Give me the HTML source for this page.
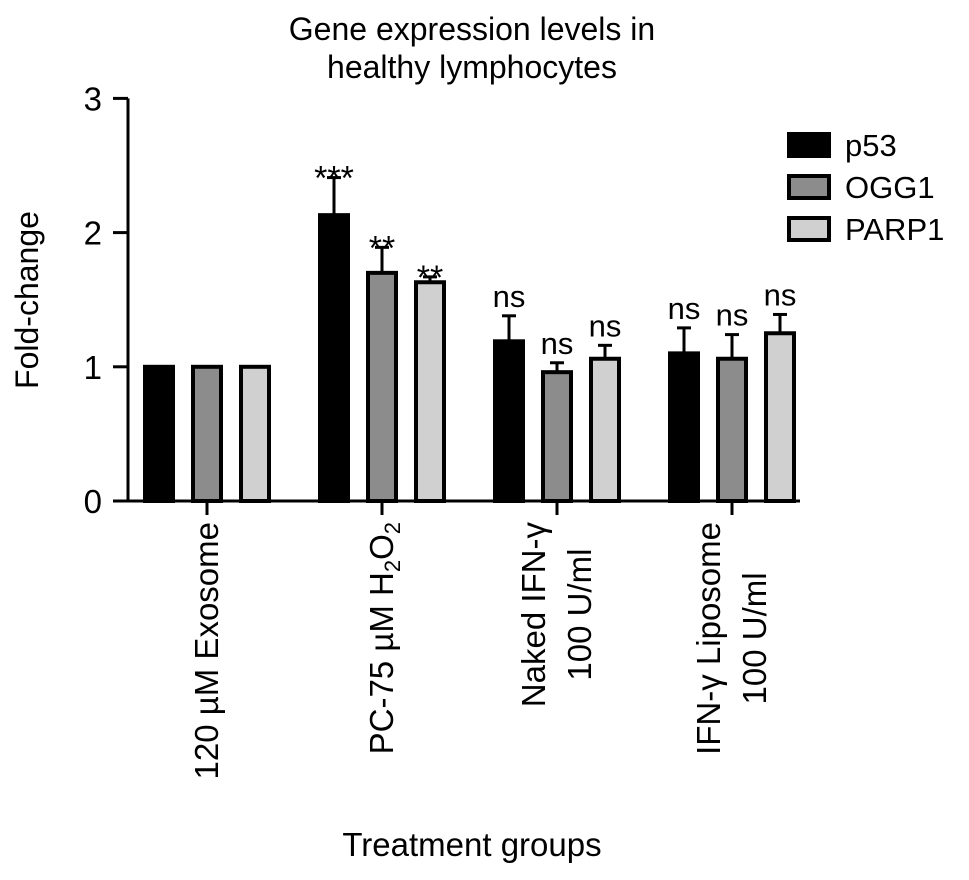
<!DOCTYPE html>
<html><head><meta charset="utf-8"><style>
body{margin:0;background:#fff}
svg text{font-family:"Liberation Sans",Arial,sans-serif;fill:#000}
</style></head><body>
<svg id="c" width="969" height="875" viewBox="0 0 969 875">
<text x="472" y="40" font-size="32" text-anchor="middle">Gene expression levels in</text>
<text x="472" y="78" font-size="32" text-anchor="middle">healthy lymphocytes</text>
<text transform="translate(38,300) rotate(-90)" font-size="32" text-anchor="middle">Fold-change</text>
<text x="472" y="856" font-size="33" text-anchor="middle">Treatment groups</text>
<g id="marks"></g>
</svg>
<script>
const categories=["120 µM Exosome","PC-75 µM H2O2","Naked IFN-γ|100 U/ml","IFN-γ Liposome|100 U/ml"];
const seriesNames=["p53","OGG1","PARP1"];
const p53=[1.0,2.13,1.19,1.10];
const ogg1=[1.0,1.70,0.96,1.06];
const parp1=[1.0,1.63,1.06,1.25];
const p53Err=[0,0.28,0.19,0.19];
const ogg1Err=[0,0.19,0.07,0.18];
const parp1Err=[0,0.04,0.10,0.14];
const sigLabels=[["","***","ns","ns"],["","**","ns","ns"],["","**","ns","ns"]];
const yTicks=[0,1,2,3];

const NS="http://www.w3.org/2000/svg";
const g=document.getElementById('marks');
const y=v=>501-v*134.2;
const xc=i=>207+i*175;
const fills=["#000","#8c8c8c","#d0d0d0"];
const vals=[p53,ogg1,parp1],errs=[p53Err,ogg1Err,parp1Err];
function mk(t,a){const e=document.createElementNS(NS,t);for(const k in a)e.setAttribute(k,a[k]);g.appendChild(e);return e;}
let e=mk('line',{x1:128,y1:y(3),x2:128,y2:y(0)+1.5,stroke:'#000','stroke-width':3});


e=mk('line',{x1:126.5,y1:y(0),x2:800,y2:y(0),stroke:'#000','stroke-width':3});


yTicks.forEach(t=>{
 let l=mk('line',{x1:113,y1:y(t),x2:128,y2:y(t),stroke:'#000','stroke-width':3});
 
 
 let tx=mk('text',{x:102,y:y(t)+12,'font-size':33,'text-anchor':'end'});tx.textContent=t;
 
 
});
categories.forEach((c,i)=>{
 let l=mk('line',{x1:xc(i),y1:y(0),x2:xc(i),y2:y(0)+14,stroke:'#000','stroke-width':3});
 
 
 const lines=c.split('|');
 let firstLen=0;
 lines.forEach((ln,j)=>{
  const off=(j-(lines.length-1)/2)*46;
  let tx=mk('text',{'font-size':33,'text-anchor':'end'});
  if(ln.includes('H2O2')){tx.innerHTML='PC-75 µM H<tspan font-size="22" dy="7">2</tspan><tspan dy="-7">O</tspan><tspan font-size="22" dy="7">2</tspan>';}
  else tx.textContent=ln;
  if(j==0){
   tx.setAttribute('transform',`translate(${xc(i)+off+11},522) rotate(-90)`);
   firstLen=tx.getComputedTextLength();
  } else {
   tx.setAttribute('text-anchor','middle');
   tx.setAttribute('transform',`translate(${xc(i)+off+11},${522+firstLen/2}) rotate(-90)`);
  }
  
  
 });
 vals.forEach((s,k)=>{
  const cx=xc(i)+(k-1)*48;
  const err=errs[k][i];
  if(err>0){
   let el=mk('line',{x1:cx,y1:y(s[i]),x2:cx,y2:y(s[i]+err),stroke:'#000','stroke-width':3});
   
   
   let ec=mk('line',{x1:cx-7,y1:y(s[i]+err),x2:cx+7,y2:y(s[i]+err),stroke:'#000','stroke-width':3});
   
   
  }
  let r=mk('rect',{x:cx-14,y:y(s[i]),width:28,height:y(0)-y(s[i]),fill:fills[k],stroke:'#000','stroke-width':4});
  
  
  const lab=sigLabels[k][i];
  if(lab){
   const star=lab[0]=='*';
   let tx=mk('text',{x:cx,y:y(s[i]+err)-(star?-12:9),'font-size':star?34:31,'text-anchor':'middle'});
   tx.textContent=lab;
   
   
  }
 });
});
seriesNames.forEach((n,k)=>{
 const cy=145+k*42;
 let r=mk('rect',{x:789,y:cy-11,width:40,height:22,fill:fills[k],stroke:'#000','stroke-width':4});
 
 
 let tx=mk('text',{x:845,y:cy+11,'font-size':31});tx.textContent=n;
 
 
});
</script>
</body></html>
